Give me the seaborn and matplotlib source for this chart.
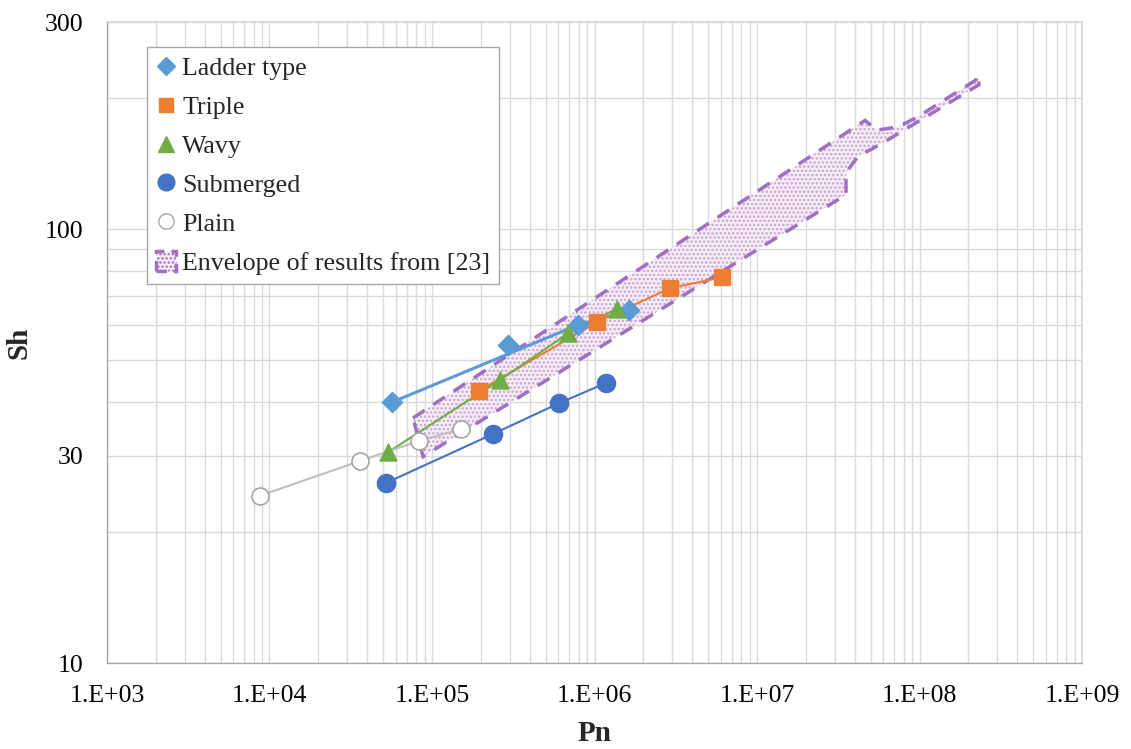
import matplotlib
matplotlib.use("Agg")
import matplotlib.pyplot as plt
import seaborn as sns
import pandas as pd
from matplotlib.patches import Polygon, Patch
from matplotlib.lines import Line2D
from matplotlib.ticker import FixedLocator, LogLocator, NullFormatter, FixedFormatter

# ---------------- data ----------------
ladder_pn = [5.67e4, 2.94e5, 7.9e5, 1.63e6]
ladder_sh = [39.9, 54.0, 60.1, 65.0]
ladder_line = [True, False, True, True]   # the drawn line skips the 2nd point

triple_pn = [1.95e5, 1.04e6, 2.92e6, 6.1e6]
triple_sh = [42.4, 61.1, 73.1, 77.4]

wavy_pn = [5.36e4, 2.62e5, 6.87e5, 1.37e6]
wavy_sh = [30.6, 44.9, 57.5, 65.5]

sub_pn = [5.21e4, 2.37e5, 6.05e5, 1.18e6]
sub_sh = [26.0, 33.7, 39.7, 44.2]

plain_pn = [8.75e3, 3.6e4, 8.32e4, 1.51e5]
plain_sh = [24.3, 29.2, 32.5, 34.6]

env_pn = [7.64e4, 4.62e7, 5.47e7, 7.38e7, 9.66e7, 2.2e8, 2.32e8, 2.32e8,
          5.96e7, 4.19e7, 3.53e7, 3.53e7, 8.81e4]
env_sh = [36.7, 178, 169, 172, 181, 220, 226, 215, 158, 147, 135, 120, 29.9]

x_ticks = [1e3, 1e4, 1e5, 1e6, 1e7, 1e8, 1e9]
x_tick_labels = ["1.E+03", "1.E+04", "1.E+05", "1.E+06", "1.E+07", "1.E+08", "1.E+09"]
y_ticks = [10, 30, 100, 300]
y_tick_labels = ["10", "30", "100", "300"]

# ---------------- style ----------------
sns.set_theme(style="white")
plt.rcParams["font.family"] = ["Liberation Serif", "DejaVu Serif"]
plt.rcParams["hatch.linewidth"] = 1.2

fig = plt.figure(figsize=(11.31, 7.49), dpi=100)
ax = fig.add_axes([0.0946, 0.1148, 0.8621, 0.8558])
ax.set_xscale("log")
ax.set_yscale("log")
ax.set_xlim(1e3, 1e9)
ax.set_ylim(10, 300)

# grid
ax.xaxis.set_major_locator(FixedLocator(x_ticks))
ax.xaxis.set_major_formatter(FixedFormatter(x_tick_labels))
ax.xaxis.set_minor_locator(LogLocator(base=10, subs=range(2, 10), numticks=100))
ax.xaxis.set_minor_formatter(NullFormatter())
ax.yaxis.set_major_locator(FixedLocator(y_ticks))
ax.yaxis.set_major_formatter(FixedFormatter(y_tick_labels))
ax.yaxis.set_minor_locator(FixedLocator([20, 40, 50, 60, 70, 80, 90, 200]))
ax.yaxis.set_minor_formatter(NullFormatter())
ax.grid(True, which="both", color="#d9d9d9", linewidth=1.0)
ax.set_axisbelow(True)
ax.tick_params(which="both", length=0, labelsize=18.5, colors="black")
ax.tick_params(axis="x", pad=16)
ax.tick_params(axis="y", pad=17)
for s in ["top", "right"]:
    ax.spines[s].set_color("#d9d9d9")
for s in ["left", "bottom"]:
    ax.spines[s].set_color("#a6a6a6")
    ax.spines[s].set_linewidth(1.0)

# envelope
env_pts = list(zip(env_pn, env_sh))
fill = Polygon(env_pts, closed=True, facecolor="#f6eef6", edgecolor="#c9a3d3",
               linewidth=0, hatch="....", zorder=1)
ax.add_patch(fill)
outline = Polygon(env_pts, closed=True, facecolor="none", edgecolor="#9e6fc2",
                  linewidth=2.5, linestyle=(0, (4, 3)), zorder=2)
ax.add_patch(outline)

# series
c_ladder = "#5B9BD5"
c_triple = "#ED7D31"
c_wavy = "#70AD47"
c_sub = "#4472C4"
c_plain = "#BFBFBF"

ldf = pd.DataFrame({"pn": ladder_pn, "sh": ladder_sh, "line": ladder_line})
sns.lineplot(data=ldf[ldf["line"]], x="pn", y="sh", sort=False, color=c_ladder,
             linewidth=2.2, ax=ax, zorder=3)
sns.scatterplot(data=ldf, x="pn", y="sh", marker="D", s=110, color=c_ladder,
                edgecolor=c_ladder, ax=ax, zorder=4)

tdf = pd.DataFrame({"pn": triple_pn, "sh": triple_sh})
sns.lineplot(data=tdf, x="pn", y="sh", sort=False, color=c_triple, linewidth=1.5,
             ax=ax, zorder=3)
sns.scatterplot(data=tdf, x="pn", y="sh", marker="s", s=130, color=c_triple,
                edgecolor=c_triple, ax=ax, zorder=4)

wdf = pd.DataFrame({"pn": wavy_pn, "sh": wavy_sh})
sns.lineplot(data=wdf, x="pn", y="sh", sort=False, color=c_wavy, linewidth=1.5,
             ax=ax, zorder=3)
sns.scatterplot(data=wdf, x="pn", y="sh", marker="^", s=150, color=c_wavy,
                edgecolor=c_wavy, ax=ax, zorder=4)

sdf = pd.DataFrame({"pn": sub_pn, "sh": sub_sh})
sns.lineplot(data=sdf, x="pn", y="sh", sort=False, color=c_sub, linewidth=1.5,
             ax=ax, zorder=3)
sns.scatterplot(data=sdf, x="pn", y="sh", marker="o", s=170, color=c_sub,
                edgecolor=c_sub, ax=ax, zorder=4)

pdf = pd.DataFrame({"pn": plain_pn, "sh": plain_sh})
sns.lineplot(data=pdf, x="pn", y="sh", sort=False, color=c_plain, linewidth=1.5,
             ax=ax, zorder=3)
sns.scatterplot(data=pdf, x="pn", y="sh", marker="o", s=150, facecolor="white",
                edgecolor="#a6a6a6", linewidth=1.2, ax=ax, zorder=4)

ax.set_xlabel("Pn", fontsize=21, fontweight="bold", labelpad=9)
ax.set_ylabel("Sh", fontsize=21, fontweight="bold")
ax.yaxis.set_label_coords(-0.076, 0.5)

# legend
handles = [
    Line2D([], [], marker="D", linestyle="none", color=c_ladder, markersize=9),
    Line2D([], [], marker="s", linestyle="none", color=c_triple, markersize=10),
    Line2D([], [], marker="^", linestyle="none", color=c_wavy, markersize=11),
    Line2D([], [], marker="o", linestyle="none", color=c_sub, markersize=12),
    Line2D([], [], marker="o", linestyle="none", markerfacecolor="white",
           markeredgecolor="#a6a6a6", markersize=11),
    Patch(facecolor="#f6eef6", edgecolor="#9e6fc2", hatch="....",
          linewidth=2.5, linestyle=(0, (3, 2))),
]
labels = ["Ladder type", "Triple", "Wavy", "Submerged", "Plain",
          "Envelope of results from [23]"]
leg = ax.legend(handles, labels, loc="upper left", bbox_to_anchor=(0.041, 0.961),
                borderaxespad=0, fontsize=18.7, frameon=True, fancybox=False,
                edgecolor="#a6a6a6", framealpha=1, handlelength=0.75,
                handleheight=0.85, handletextpad=0.25, labelspacing=0.56,
                borderpad=0.35)
leg.get_frame().set_linewidth(1.0)
leg.set_zorder(10)

fig.savefig("out.png", dpi=100)
